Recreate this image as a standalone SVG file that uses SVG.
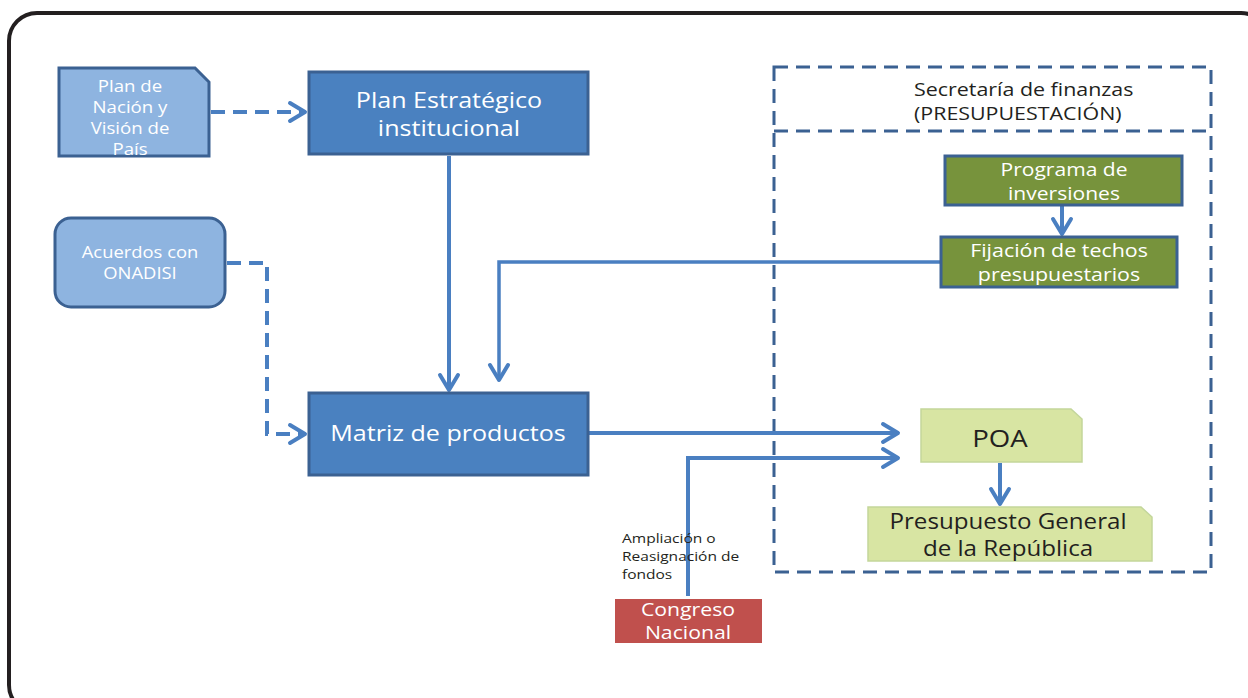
<svg xmlns="http://www.w3.org/2000/svg" width="1248" height="698" viewBox="0 0 1248 698">
<defs>
<style>
.frame{fill:#fff;stroke:#231f20;stroke-width:4}
.lb{fill:#8eb4e0;stroke:#3b6192;stroke-width:3}
.db{fill:#4a81c0;stroke:#3b6192;stroke-width:3}
.gb{fill:#77933c;stroke:#3b6192;stroke-width:3}
.yb{fill:#d8e5a3;stroke:#c3d69b;stroke-width:1.5}
.rb{fill:#c0504d}
.wt{fill:#fff;font-family:"Open Sans","Liberation Sans",Arial,sans-serif;text-anchor:middle}
.dt{fill:#231f20;font-family:"Open Sans","Liberation Sans",Arial,sans-serif}
.ln{fill:none;stroke:#4a7fc1;stroke-width:4}
.dash{stroke-dasharray:14 8}
.cont{fill:none;stroke:#3b6192;stroke-width:3;stroke-dasharray:14 8}
</style>
<marker id="ah" markerUnits="userSpaceOnUse" markerWidth="24" markerHeight="26" viewBox="0 0 24 26" refX="20" refY="13" orient="auto">
<path d="M5,4 L20,13 L5,22" fill="none" stroke="#4a7fc1" stroke-width="4" stroke-linecap="round" stroke-linejoin="round"/>
</marker>
</defs>
<rect class="frame" x="9" y="13" width="1260" height="700" rx="28"/>

<g id="container">
<rect class="cont" x="774" y="67" width="437" height="505"/>
<line class="cont" x1="774" y1="131" x2="1211" y2="131"/>
<g transform="translate(914,0) scale(1.19,1)">
<text class="dt" font-size="18" x="0" y="96">Secretaría de finanzas</text>
<text class="dt" font-size="18" x="0" y="120">(PRESUPUESTACIÓN)</text>
</g>
</g>

<g id="connectors">
<path class="ln dash" d="M211,112 H305" marker-end="url(#ah)"/>
<path class="ln dash" d="M227,263 H267 V434 H305" marker-end="url(#ah)"/>
<path class="ln" d="M449,156 V390" marker-end="url(#ah)"/>
<path class="ln" style="stroke-width:3.5" d="M940,262 H499 V380" marker-end="url(#ah)"/>
<path class="ln" d="M1062,206 V234" marker-end="url(#ah)"/>
<path class="ln" d="M589,433 H898" marker-end="url(#ah)"/>
<path class="ln" d="M688,596 V458 H898" marker-end="url(#ah)"/>
<path class="ln" d="M1000,463 V504" marker-end="url(#ah)"/>
</g>

<g id="plan-nacion">
<path class="lb" d="M59,68 H195 L209,82 V156 H59 Z"/>
<g transform="translate(130,0) scale(1.18,1)">
<text class="wt" font-size="15.8" x="0" y="92">Plan de</text>
<text class="wt" font-size="15.8" x="0" y="113">Nación y</text>
<text class="wt" font-size="15.8" x="0" y="134">Visión de</text>
<text class="wt" font-size="15.8" x="0" y="155">País</text>
</g>
</g>

<g id="plan-estrategico">
<rect class="db" x="309" y="72" width="279" height="82"/>
<g transform="translate(449,0) scale(1.14,1)">
<text class="wt" font-size="22" x="0" y="108">Plan Estratégico</text>
<text class="wt" font-size="22" x="0" y="136">institucional</text>
</g>
</g>

<g id="acuerdos">
<rect class="lb" x="55" y="218" width="170" height="89" rx="16"/>
<g transform="translate(140,0) scale(1.15,1)">
<text class="wt" font-size="16" x="0" y="258">Acuerdos con</text>
<text class="wt" font-size="16" x="0" y="279">ONADISI</text>
</g>
</g>

<g id="matriz">
<rect class="db" x="309" y="393" width="279" height="82"/>
<g transform="translate(448,0) scale(1.14,1)">
<text class="wt" font-size="22" x="0" y="441">Matriz de productos</text>
</g>
</g>

<g id="programa">
<rect class="gb" x="945" y="156" width="237" height="49"/>
<g transform="translate(1064,0) scale(1.17,1)">
<text class="wt" font-size="18" x="0" y="176">Programa de</text>
<text class="wt" font-size="18" x="0" y="200">inversiones</text>
</g>
</g>

<g id="fijacion">
<rect class="gb" x="941" y="237" width="236" height="50"/>
<g transform="translate(1059,0) scale(1.19,1)">
<text class="wt" font-size="18" x="0" y="257">Fijación de techos</text>
<text class="wt" font-size="18" x="0" y="281">presupuestarios</text>
</g>
</g>

<g id="poa">
<path class="yb" d="M921,409 H1071 L1082,419 V462 H921 Z"/>
<g transform="translate(1000,0) scale(1.15,1)">
<text class="dt" font-size="24" x="0" y="447" text-anchor="middle">POA</text>
</g>
</g>

<g id="presupuesto">
<path class="yb" d="M868,507 H1141 L1152,517 V561 H868 Z"/>
<g transform="translate(1008,0) scale(1.15,1)">
<text class="dt" font-size="21" x="0" y="529" text-anchor="middle">Presupuesto General</text>
<text class="dt" font-size="21" x="0" y="556" text-anchor="middle">de la República</text>
</g>
</g>

<g id="congreso">
<rect class="rb" x="615" y="599" width="147" height="44"/>
<g transform="translate(688,0) scale(1.18,1)">
<text class="wt" font-size="18" x="0" y="616">Congreso</text>
<text class="wt" font-size="18" x="0" y="639">Nacional</text>
</g>
</g>

<g id="label-ampliacion">
<g transform="translate(622,0) scale(1.15,1)">
<text class="dt" font-size="13.5" x="0" y="543">Ampliación o</text>
<text class="dt" font-size="13.5" x="0" y="561">Reasignación de</text>
<text class="dt" font-size="13.5" x="0" y="579">fondos</text>
</g>
</g>
</svg>
